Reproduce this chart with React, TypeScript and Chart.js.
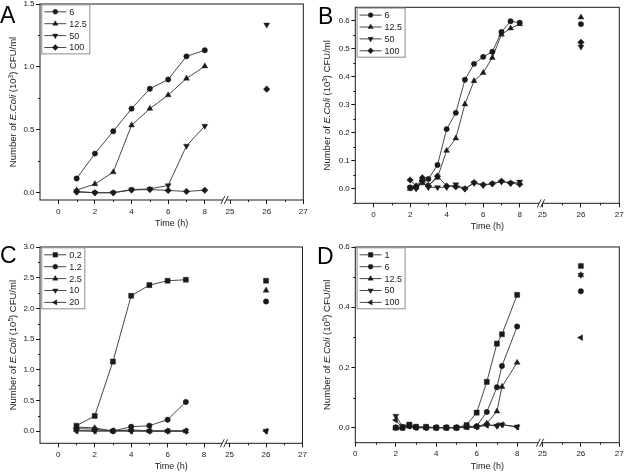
import React, { useEffect, useRef } from "react";
import { Chart, registerables } from "chart.js";
import { drawPoint } from "chart.js/helpers";

Chart.register(...registerables);

// ---- data ----
const X_LEFT_TICKS = [0, 2, 4, 6, 8];
const X_RIGHT_TICKS = [25, 26, 27];

// A
const A_HOURS = [1, 2, 3, 4, 5, 6, 7, 8];
const A_LABELS = ["6", "12.5", "50", "100"];
const A_C6 = [0.113, 0.311, 0.488, 0.668, 0.826, 0.9, 1.084, 1.132];
const A_C12_5 = [0.021, 0.069, 0.164, 0.536, 0.668, 0.776, 0.908, 1.005];
const A_C50 = [0.01, 0.0, 0.0, 0.025, 0.03, 0.058, 0.372, 0.53];
const A_C100 = [0.005, 0.0, 0.0, 0.021, 0.025, 0.018, 0.01, 0.02];
const A_AT26 = [null, null, 1.335, 0.823];
const A_Y_TICKS = [0, 0.5, 1.0, 1.5];

// B
const B_HOURS = [2, 2.33, 2.67, 3, 3.5, 4, 4.5, 5, 5.5, 6, 6.5, 7, 7.5, 8];
const B_LABELS = ["6", "12.5", "50", "100"];
const B_C6 = [0.005, 0.005, 0.03, 0.035, 0.085, 0.213, 0.271, 0.389, 0.446, 0.471, 0.489, 0.56, 0.598, 0.593];
const B_C12_5 = [0.0, 0.005, 0.02, 0.012, 0.04, 0.136, 0.18, 0.302, 0.385, 0.414, 0.468, 0.551, 0.573, 0.588];
const B_C50 = [0.003, 0.0, 0.025, 0.005, 0.005, 0.005, 0.015, 0.0, 0.02, 0.012, 0.018, 0.025, 0.02, 0.025];
const B_C100 = [0.031, 0.01, 0.039, 0.01, 0.045, 0.01, 0.007, 0.0, 0.022, 0.014, 0.018, 0.027, 0.02, 0.016];
const B_AT26 = [0.588, 0.612, 0.507, 0.523];
const B_Y_TICKS = [0, 0.1, 0.2, 0.3, 0.4, 0.5, 0.6];

// C
const C_HOURS = [1, 2, 3, 4, 5, 6, 7];
const C_LABELS = ["0.2", "1.2", "2.5", "10", "20"];
const C_C0_2 = [0.087, 0.245, 1.132, 2.205, 2.379, 2.45, 2.466];
const C_C1_2 = [0.04, 0.03, 0.0, 0.07, 0.087, 0.185, 0.474];
const C_C2_5 = [0.065, 0.05, 0.0, 0.02, 0.0, 0.0, 0.0];
const C_C10 = [0.01, 0.0, 0.0, 0.0, 0.0, 0.0, 0.0];
const C_C20 = [0.0, 0.0, 0.005, 0.0, 0.0, 0.0, 0.0];
const C_AT26 = [2.45, 2.112, 2.292, 0.0, 0.0];
const C_Y_TICKS = [0, 0.5, 1.0, 1.5, 2.0, 2.5, 3.0];

// D
const D_HOURS = [2, 2.33, 2.67, 3, 3.5, 4, 4.5, 5, 5.5, 6, 6.5, 7, 7.25, 8];
const D_LABELS = ["1", "6", "12.5", "50", "100"];
const D_C1 = [0, 0, 0.01, 0.003, 0.003, 0, 0, 0, 0.009, 0.05, 0.152, 0.279, 0.31, 0.441];
const D_C6 = [0, 0, 0.005, 0.002, 0, 0, 0, 0, 0.003, 0.005, 0.052, 0.134, 0.205, 0.336];
const D_C12_5 = [0, 0, 0.005, 0, 0, 0, 0, 0, 0, 0.003, 0.014, 0.054, 0.136, 0.216];
const D_C50 = [0.039, 0.005, 0.008, 0, 0, 0, 0, 0, 0.005, 0.003, 0.01, 0.005, 0.01, 0.003];
const D_C100 = [0.025, 0, 0.005, 0, 0, 0, 0, 0, 0.002, 0.002, 0.008, 0.008, 0.01, 0.002];
const D_AT26 = [0.537, 0.453, 0.507, 0.507, 0.299];
const D_Y_TICKS = [0, 0.2, 0.4, 0.6];

// ---- styling ----
const FONT = '"Liberation Sans", Arial, sans-serif';
const INK = "#1a1a1a";
const LINE = "#333";
const X_SCALE_H = 29;

const SHAPES: Record<string, { pointStyle: any; rotation: number; radius: number }> = {
  circle: { pointStyle: "circle", rotation: 0, radius: 2.7 },
  up: { pointStyle: "triangle", rotation: 0, radius: 3.4 },
  down: { pointStyle: "triangle", rotation: 180, radius: 3.4 },
  left: { pointStyle: "triangle", rotation: -90, radius: 3.4 },
  diamond: { pointStyle: "rectRot", rotation: 0, radius: 3.3 },
  square: { pointStyle: "rect", rotation: 0, radius: 3.6 },
};

type Series = { label: string; values: number[]; at26: number | null; shape: string };
type Panel = {
  letter: string;
  exp: string;
  canvas: { x: number; y: number; w: number; h: number };
  area: { l: number; t: number; r: number; b: number };
  letterPos: { x: number; y: number };
  titleX: number;
  xMin: number;
  brk: number;
  slope: number;
  breakAt: number;
  yMin: number;
  yMax: number;
  yTicks: number[];
  hours: number[];
  series: Series[];
};

const mk = (labels: string[], cols: number[][], at26: (number | null)[], shapes: string[]): Series[] =>
  labels.map((label, i) => ({ label, values: cols[i], at26: at26[i], shape: shapes[i] }));

const PANELS: Panel[] = [
  {
    letter: "A", exp: "3",
    canvas: { x: 0, y: -8, w: 320, h: 244 },
    area: { l: 40, t: 4, r: 303.3, b: 200 },
    letterPos: { x: 0, y: 23.3 }, titleX: 13,
    xMin: -1, brk: 9.38, slope: 2.0, breakAt: 9.08,
    yMin: -0.058, yMax: 1.5, yTicks: A_Y_TICKS,
    hours: A_HOURS,
    series: mk(A_LABELS, [A_C6, A_C12_5, A_C50, A_C100], A_AT26, ["circle", "up", "down", "diamond"]),
  },
  {
    letter: "B", exp: "3",
    canvas: { x: 312, y: -8, w: 320, h: 244 },
    area: { l: 355.3, t: 7.3, r: 619.3, b: 203.3 },
    letterPos: { x: 318, y: 24 }, titleX: 327,
    xMin: -1, brk: 9.25, slope: 2.1, breakAt: 9.16,
    yMin: -0.052, yMax: 0.648, yTicks: B_Y_TICKS,
    hours: B_HOURS,
    series: mk(B_LABELS, [B_C6, B_C12_5, B_C50, B_C100], B_AT26, ["circle", "up", "down", "diamond"]),
  },
  {
    letter: "C", exp: "5",
    canvas: { x: 0, y: 228, w: 320, h: 245 },
    area: { l: 40, t: 247, r: 302.5, b: 443.3 },
    letterPos: { x: 0, y: 263 }, titleX: 13,
    xMin: -1, brk: 9.4, slope: 2.0, breakAt: 9.09,
    yMin: -0.2, yMax: 3.0, yTicks: C_Y_TICKS,
    hours: C_HOURS,
    series: mk(C_LABELS, [C_C0_2, C_C1_2, C_C2_5, C_C10, C_C20], C_AT26, ["square", "circle", "up", "down", "left"]),
  },
  {
    letter: "D", exp: "5",
    canvas: { x: 312, y: 228, w: 320, h: 245 },
    area: { l: 355.3, t: 247, r: 619.3, b: 442.7 },
    letterPos: { x: 317, y: 264 }, titleX: 327,
    xMin: 0, brk: 9.25, slope: 1.9, breakAt: 9.13,
    yMin: -0.05, yMax: 0.6, yTicks: D_Y_TICKS,
    hours: D_HOURS,
    series: mk(D_LABELS, [D_C1, D_C6, D_C12_5, D_C50, D_C100], D_AT26, ["square", "circle", "up", "down", "left"]),
  },
];

function PanelChart({ p }: { p: Panel }) {
  const ref = useRef<HTMLCanvasElement>(null);

  useEffect(() => {
    const canvas = ref.current;
    if (!canvas) return;

    const toU = (h: number) => (h <= 9 ? h : p.brk + p.slope * (h - 25));
    const xMax = p.brk + p.slope * 2;
    const xTickVals = [...X_LEFT_TICKS, ...X_RIGHT_TICKS];
    const xMinor = [1, 3, 5, 7].filter((v) => v > p.xMin).concat([toU(25.5), toU(26.5)]);
    const step = p.yTicks[1] - p.yTicks[0];
    const yMinor: number[] = [];
    for (let v = p.yTicks[0] - step / 2; v < p.yMax; v += step) {
      if (v > p.yMin + 1e-6) yMinor.push(v);
    }

    const datasets: any[] = [];
    p.series.forEach((s) => {
      const sh = SHAPES[s.shape];
      const common = {
        borderColor: LINE,
        borderWidth: 0.9,
        pointStyle: sh.pointStyle,
        pointRotation: sh.rotation,
        pointRadius: sh.radius,
        pointBackgroundColor: INK,
        pointBorderColor: INK,
        pointBorderWidth: 0.4,
      };
      datasets.push({ ...common, label: s.label, data: p.hours.map((h, i) => ({ x: toU(h), y: s.values[i] })) });
      if (s.at26 !== null) {
        datasets.push({ ...common, label: s.label + " (26 h)", showLine: false, data: [{ x: toU(26), y: s.at26 }] });
      }
    });

    const c = p.canvas;
    const decor = {
      id: "panelDecor",
      afterDraw(chart: any) {
        const { ctx, chartArea: a } = chart;
        const xs = chart.scales.x;
        const ys = chart.scales.y;
        ctx.save();

        // frame
        ctx.strokeStyle = INK;
        ctx.lineWidth = 1;
        ctx.strokeRect(a.left, a.top, a.right - a.left, a.bottom - a.top);

        // minor ticks
        ctx.beginPath();
        xMinor.forEach((u) => {
          const px = Math.round(xs.getPixelForValue(u)) + 0.5;
          ctx.moveTo(px, a.bottom);
          ctx.lineTo(px, a.bottom + 2);
        });
        yMinor.forEach((v) => {
          const py = Math.round(ys.getPixelForValue(v)) + 0.5;
          ctx.moveTo(a.left, py);
          ctx.lineTo(a.left - 2, py);
        });
        ctx.stroke();

        // axis break
        const bx = xs.getPixelForValue(p.breakAt);
        ctx.fillStyle = "#fff";
        ctx.fillRect(bx - 1.6, a.bottom - 1.2, 3.2, 2.4);
        ctx.beginPath();
        [-1.7, 1.7].forEach((d) => {
          ctx.moveTo(bx + d - 2, a.bottom + 4);
          ctx.lineTo(bx + d + 2, a.bottom - 4);
        });
        ctx.lineWidth = 0.9;
        ctx.stroke();

        // legend
        ctx.font = `9px ${FONT}`;
        const tw = Math.max(...p.series.map((s) => ctx.measureText(s.label).width));
        const lx = a.left + 1.8;
        const ly = a.top + 0.8;
        const bw = 27.5 + tw + 3;
        const bh = 11.9 * p.series.length + 1.5;
        ctx.fillStyle = "#fff";
        ctx.fillRect(lx, ly, bw, bh);
        ctx.strokeStyle = "#8c8c8c";
        ctx.lineWidth = 1;
        ctx.strokeRect(lx, ly, bw, bh);
        p.series.forEach((s, i) => {
          const cy = ly + 7 + 11.9 * i;
          const sh = SHAPES[s.shape];
          ctx.strokeStyle = LINE;
          ctx.lineWidth = 0.9;
          ctx.beginPath();
          ctx.moveTo(lx + 2.5, cy);
          ctx.lineTo(lx + 24.5, cy);
          ctx.stroke();
          ctx.fillStyle = INK;
          ctx.strokeStyle = INK;
          ctx.lineWidth = 0.4;
          drawPoint(ctx, { pointStyle: sh.pointStyle, rotation: sh.rotation, radius: sh.radius * 0.9, borderWidth: 0.4 } as any, lx + 13.5, cy);
          ctx.fillStyle = INK;
          ctx.textAlign = "left";
          ctx.textBaseline = "middle";
          ctx.font = `9px ${FONT}`;
          ctx.fillText(s.label, lx + 27.5, cy + 0.5);
        });

        // panel letter
        ctx.fillStyle = "#000";
        ctx.font = `23px ${FONT}`;
        ctx.textAlign = "left";
        ctx.textBaseline = "alphabetic";
        ctx.fillText(p.letter, p.letterPos.x - c.x, p.letterPos.y - c.y);

        // y-axis title with italic name and superscript
        const size = 9.5;
        const segs = [
          { t: "Number of ", f: `${size}px ${FONT}`, dy: 0 },
          { t: "E.Coli", f: `italic ${size}px ${FONT}`, dy: 0 },
          { t: " (10", f: `${size}px ${FONT}`, dy: 0 },
          { t: p.exp, f: `6.5px ${FONT}`, dy: -3.8 },
          { t: ") CFU/ml", f: `${size}px ${FONT}`, dy: 0 },
        ];
        let total = 0;
        const widths = segs.map((sg) => {
          ctx.font = sg.f;
          const w = ctx.measureText(sg.t).width;
          total += w;
          return w;
        });
        ctx.translate(p.titleX - c.x, (a.top + a.bottom) / 2);
        ctx.rotate(-Math.PI / 2);
        ctx.fillStyle = INK;
        let x = -total / 2;
        segs.forEach((sg, i) => {
          ctx.font = sg.f;
          ctx.fillText(sg.t, x, size * 0.36 + sg.dy);
          x += widths[i];
        });

        ctx.restore();
      },
    };

    const chart = new Chart(canvas, {
      type: "line",
      data: { datasets },
      options: {
        animation: false,
        responsive: false,
        events: [],
        layout: {
          autoPadding: false,
          padding: {
            left: 0,
            top: p.area.t - c.y,
            right: c.x + c.w - p.area.r,
            bottom: c.y + c.h - p.area.b - X_SCALE_H,
          },
        },
        plugins: { legend: { display: false }, tooltip: { enabled: false } },
        elements: { line: { tension: 0 } },
        scales: {
          x: {
            type: "linear",
            min: p.xMin,
            max: xMax,
            afterBuildTicks: (s: any) => {
              s.ticks = xTickVals.map((v) => ({ value: toU(v) }));
            },
            afterFit: (s: any) => {
              s.height = X_SCALE_H;
            },
            ticks: {
              autoSkip: false,
              maxRotation: 0,
              minRotation: 0,
              padding: 2.5,
              color: INK,
              font: { size: 8, family: FONT },
              callback: (_v: any, i: number) => String(xTickVals[i]),
            },
            grid: { display: true, drawOnChartArea: false, drawTicks: true, tickLength: 4, color: INK, lineWidth: 1 },
            border: { display: false },
            title: { display: true, text: "Time (h)", color: INK, font: { size: 9, family: FONT }, padding: { top: 0, bottom: 0 } },
          },
          y: {
            type: "linear",
            min: p.yMin,
            max: p.yMax,
            afterBuildTicks: (s: any) => {
              s.ticks = p.yTicks.map((v) => ({ value: v }));
            },
            afterFit: (s: any) => {
              s.width = p.area.l - c.x;
            },
            ticks: {
              padding: 1.5,
              color: INK,
              font: { size: 8, family: FONT },
              callback: (v: any) => Number(v).toFixed(1),
            },
            grid: { display: true, drawOnChartArea: false, drawTicks: true, tickLength: 4, color: INK, lineWidth: 1 },
            border: { display: false },
          },
        },
      } as any,
      plugins: [decor],
    });

    return () => chart.destroy();
  }, [p]);

  return (
    <canvas
      ref={ref}
      width={p.canvas.w}
      height={p.canvas.h}
      style={{ position: "absolute", left: p.canvas.x, top: p.canvas.y, width: p.canvas.w, height: p.canvas.h }}
    />
  );
}

export default function App() {
  return (
    <div style={{ position: "fixed", left: 0, top: 0, width: 624, height: 473, overflow: "hidden", background: "#fff" }}>
      {PANELS.map((p) => (
        <PanelChart key={p.letter} p={p} />
      ))}
    </div>
  );
}
